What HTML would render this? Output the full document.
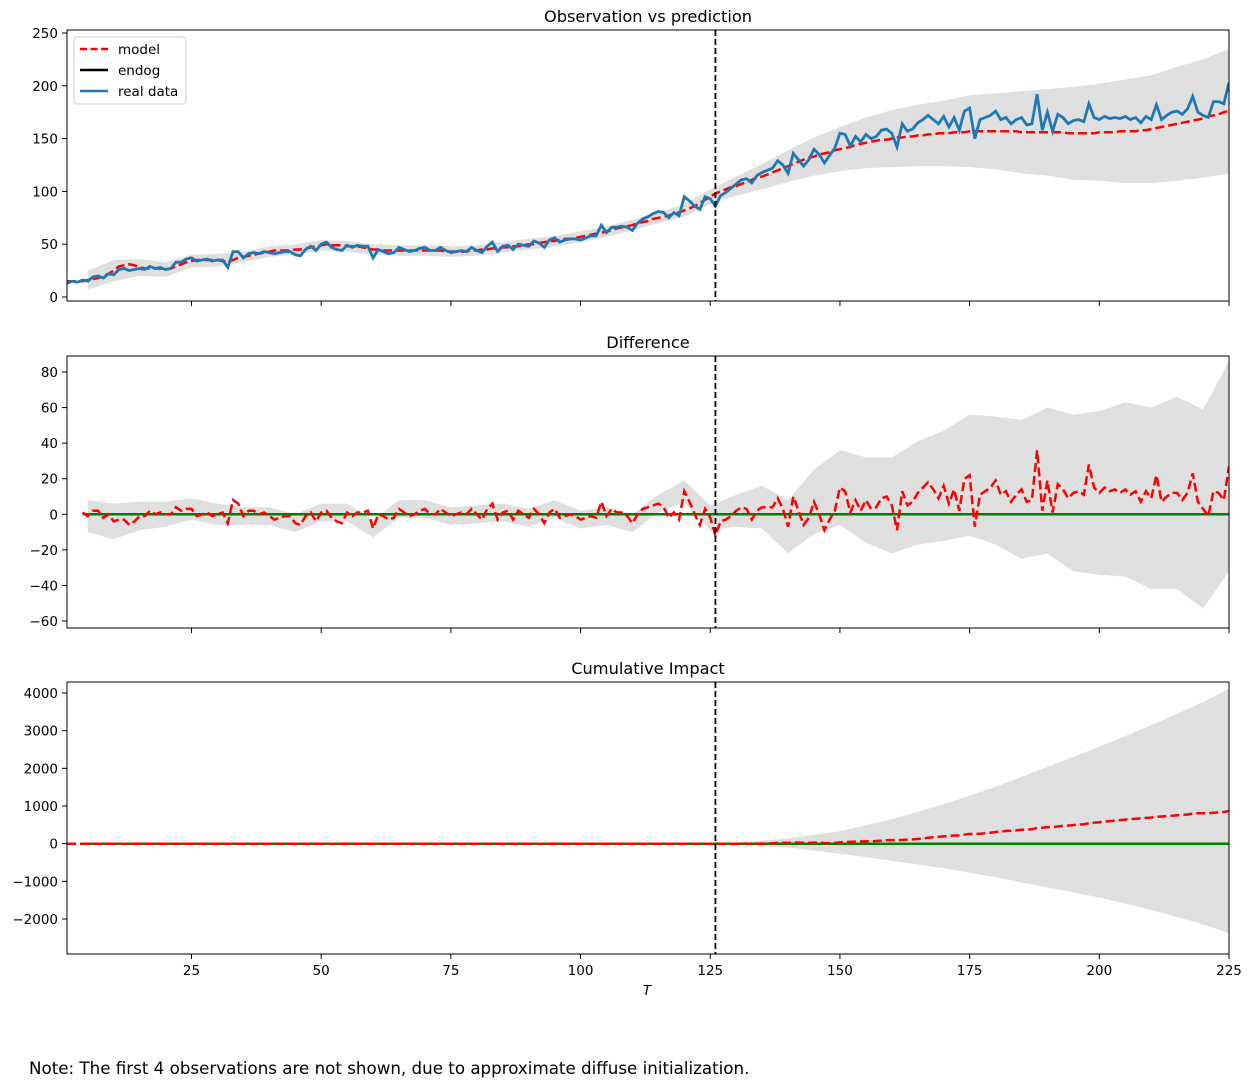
<!DOCTYPE html>
<html><head><meta charset="utf-8"><style>
body{margin:0;background:#fff;width:1252px;height:1087px;overflow:hidden}
svg{display:block;font-family:"DejaVu Sans","Liberation Sans",sans-serif}
</style></head><body>
<svg id="fig" width="1252" height="1087"></svg>
<script>
const tsX=[];for(let i=1;i<=225;i++)tsX.push(i);
const modelVals=[15,15,15,15,16,17,18,20,22,25,29,30,31,30,28,27,27,27,27,26,27,29,31,33,34,35,35,35,35,35,34,33,35,37,38,39,40,41,42,43,44,44,44,44,45,45,46,47,48,49,50,49,49,49,48,48,48,47,46,45,45,44,44,44,44,44,44,44,44,44,44,44,44,43,43,43,43,43,44,44,45,45,46,46,47,47,48,48,49,50,50,51,52,53,53,54,55,55,56,57,58,59,60,61,62,63,65,66,67,68,70,71,72,74,75,76,77,79,80,82,84,86,89,92,95,98,100,102,104,105,107,109,111,113,114,116,118,120,122,124,126,128,130,132,133,135,136,137,139,140,141,142,144,145,146,147,148,149,149,150,151,151,152,152,153,153,154,154,155,155,155,156,156,156,157,157,157,157,157,157,157,157,157,157,156,156,156,156,156,156,156,156,156,155,155,155,155,155,155,156,156,156,156,157,157,157,157,158,158,159,160,161,162,163,164,165,166,167,168,169,171,172,173,175,176];
const realVals=[13,15,14,16,15,19,20,18,22,21,26,27,25,26,27,26,29,27,28,26,27,33,33,36,37,34,35,36,34,35,35,28,43,43,37,41,42,41,43,42,41,42,43,43,40,39,45,48,44,50,52,47,45,44,49,47,49,48,48,37,45,43,41,42,47,45,43,44,46,47,44,44,47,44,42,43,44,43,47,44,42,48,52,43,48,49,45,50,49,48,53,51,47,54,56,52,54,55,55,54,56,58,58,68,61,66,66,67,66,63,70,74,76,79,81,80,75,80,77,95,91,86,83,95,93,86,96,99,103,107,111,112,108,115,118,120,122,129,125,117,136,130,124,130,140,135,127,134,141,155,154,143,152,147,154,150,152,158,159,155,142,164,157,159,165,168,172,168,164,171,161,170,158,176,179,150,168,170,172,176,168,170,164,168,170,163,164,192,158,175,157,173,170,164,167,168,166,183,170,168,171,169,170,169,171,168,170,165,171,168,182,168,172,175,176,173,178,190,175,172,170,185,185,183,203];
const bandX=[5,10,15,20,25,30,35,40,45,50,55,60,65,70,75,80,85,90,95,100,105,110,115,120,125,130,135,140,145,150,155,160,165,170,175,180,185,190,195,200,205,210,215,220,225];
const bandHalf=[9,10,8,7,6,6,5,5,5,5,5,5,5,5,5,5,5,5,5,5,5,5,5,6,7,9,12,15,18,21,24,27,29,31,34,36,39,41,44,46,49,51,54,56,59];
const cumX=[126,130,140,150,160,170,180,190,200,210,220,225];
const cumHalf=[0,30,120,300,550,850,1200,1600,2000,2450,2950,3250];
const xTicks=[25,50,75,100,125,150,175,200,225];
const obsTicks=[0,50,100,150,200,250];
const diffTicks=[-60,-40,-20,0,20,40,60,80];
const cumTicks=[-2000,-1000,0,1000,2000,3000,4000];
const interventionX=126, firstShown=4;

const NS="http://www.w3.org/2000/svg", svg=document.getElementById('fig');
function mk(tag,attrs,parent){const e=document.createElementNS(NS,tag);for(const k in attrs)e.setAttribute(k,attrs[k]);(parent||svg).appendChild(e);return e;}
const L=67,R=1229;
const xs=v=>L+(v-1)*(R-L)/224;
function yFn(v0,y0,v1,y1){return v=>y0+(v-v0)*(y1-y0)/(v1-v0);}
const panels=[
 {top:30,bot:301,y:yFn(0,297,250,33),ticks:obsTicks,title:"Observation vs prediction",name:"observation"},
 {top:356,bot:628,y:yFn(-60,621,80,372),ticks:diffTicks,title:"Difference",name:"difference"},
 {top:682,bot:954,y:yFn(-2000,919,4000,693),ticks:cumTicks,title:"Cumulative Impact",name:"cumulative"}];
const diff=realVals.map((v,i)=>v-modelVals[i]);
const cum=[];let acc=0;for(let i=0;i<225;i++){if(tsX[i]>interventionX)acc+=diff[i];cum.push(acc);}
function pts(xa,ya,y){return xa.map((x,i)=>xs(x).toFixed(1)+","+y(ya[i]).toFixed(1)).join(" ");}
function band(xa,lo,hi,y,p){const s=xa.map((x,i)=>xs(x).toFixed(1)+","+y(hi[i]).toFixed(1)).concat(xa.map((x,i)=>xs(x).toFixed(1)+","+y(lo[i]).toFixed(1)).reverse()).join(" ");
 const b=mk('polygon',{points:s,fill:'#dfdfdf'},p);
 
 }
const fmt=t=>t<0?'\u2212'+(-t):String(t);
panels.forEach((P,pi)=>{
 const g=mk('g',{});
 
 
 const cid='clip'+pi;const cp=mk('clipPath',{id:cid},g);mk('rect',{x:L,y:P.top,width:R-L,height:P.bot-P.top},cp);
 const pg=mk('g',{'clip-path':'url(#'+cid+')'},g);
 const idx=bandX.map(x=>x-1);
 if(pi===0){band(bandX,idx.map((k,i)=>modelVals[k]-bandHalf[i]),idx.map((k,i)=>modelVals[k]+bandHalf[i]),P.y,pg);}
 if(pi===1){band(bandX,idx.map((k,i)=>diff[k]-bandHalf[i]),idx.map((k,i)=>diff[k]+bandHalf[i]),P.y,pg);}
 if(pi===2){const ci=cumX.map(x=>x-1);band(cumX,ci.map((k,i)=>cum[k]-cumHalf[i]),ci.map((k,i)=>cum[k]+cumHalf[i]),P.y,pg);}
 if(pi===0){
  const m=mk('polyline',{points:pts(tsX,modelVals,P.y),fill:'none',stroke:'#ff0000','stroke-width':2.5,'stroke-dasharray':'9,4'},pg);
  
  
  const r=mk('polyline',{points:pts(tsX,realVals,P.y),fill:'none',stroke:'#1f77b4','stroke-width':2.8},pg);
  
  
 } else {
  const sx=tsX.filter(x=>x>=firstShown);
  const z=mk('polyline',{points:pts(sx,sx.map(()=>0),P.y),fill:'none',stroke:'#007f00','stroke-width':2.5},pg);
  
  
  const xa=pi===1?sx:tsX, ya=pi===1?sx.map(x=>diff[x-1]):cum;
  const d=mk('polyline',{points:pts(xa,ya,P.y),fill:'none',stroke:'#ff0000','stroke-width':2.5,'stroke-dasharray':'9,4'},pg);
  
  
 }
 const vl=mk('line',{x1:xs(interventionX),x2:xs(interventionX),y1:P.top,y2:P.bot,stroke:'#000','stroke-width':1.8,'stroke-dasharray':'6,3'},g);
 
 
 const fr=mk('rect',{x:L,y:P.top,width:R-L,height:P.bot-P.top,fill:'none',stroke:'#000','stroke-width':1},g);
 
 
 P.ticks.forEach(t=>{const yy=P.y(t);mk('line',{x1:L-5,x2:L,y1:yy,y2:yy,stroke:'#000'},g);
  const tx=mk('text',{x:L-9,y:yy+5,'text-anchor':'end','font-size':13.5},g);tx.textContent=fmt(t);
  
  });
 xTicks.forEach(t=>{const xx=xs(t);mk('line',{x1:xx,x2:xx,y1:P.bot,y2:P.bot+5,stroke:'#000'},g);
  if(pi===2){const tx=mk('text',{x:xx,y:P.bot+21,'text-anchor':'middle','font-size':13.5},g);tx.textContent=t;
  
  }});
 const ti=mk('text',{x:(L+R)/2,y:P.top-8,'text-anchor':'middle','font-size':16.2},g);ti.textContent=P.title;
 
 
});
const xl=mk('text',{x:647,y:995,'text-anchor':'middle','font-size':13.5,'font-style':'italic'});xl.textContent='T';


const lg=mk('g',{});


mk('rect',{x:74,y:37,width:112,height:67,rx:3,fill:'#fff',stroke:'#ccc'},lg);
[['model','#ff0000','7,3.5'],['endog','#000',''],['real data','#1f77b4','']].forEach((e,i)=>{
 const y=49+i*21;const ln=mk('line',{x1:80,x2:108,y1:y,y2:y,stroke:e[1],'stroke-width':2.5},lg);if(e[2])ln.setAttribute('stroke-dasharray',e[2]);
 const t=mk('text',{x:118,y:y+5,'font-size':13.5},lg);t.textContent=e[0];
 
 });
const nt=mk('text',{x:29,y:1074,'font-size':16.7});nt.textContent='Note: The first 4 observations are not shown, due to approximate diffuse initialization.';


</script>
</body></html>
